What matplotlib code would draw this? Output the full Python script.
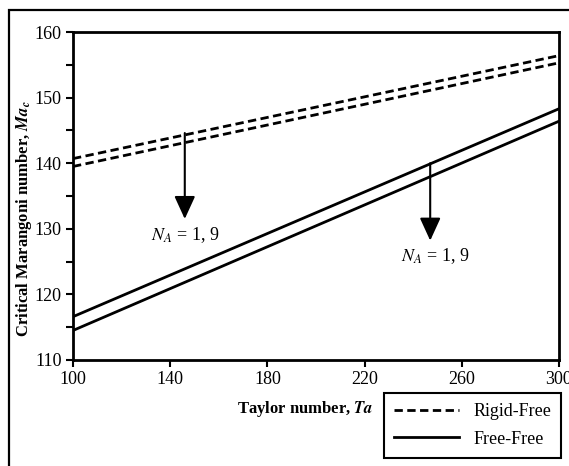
import numpy as np
import matplotlib
matplotlib.use('Agg')
import matplotlib.pyplot as plt
from matplotlib.patches import Rectangle
from matplotlib.ticker import MultipleLocator

plt.rcParams['font.family'] = 'Liberation Serif'
plt.rcParams['mathtext.fontset'] = 'stix'

# Taylor number end points (the curves are straight lines)
ta = [100, 300]

# Rigid-Free, N_A = 1 and N_A = 9
rf_na1 = [140.7, 156.4]
rf_na9 = [139.5, 155.3]

# Free-Free, N_A = 1 and N_A = 9
ff_na1 = [116.6, 148.3]
ff_na9 = [114.5, 146.4]

# arrows: (Ta, start Ma, tip Ma, label Ta, label Ma)
arrows = [(146, 144.6, 131.5, 146, 129.1),
          (247, 140.0, 128.2, 249, 125.9)]
arrow_text = r'$N_A$ = 1, 9'

fig = plt.figure(figsize=(5.69, 4.66), dpi=100)
ax = fig.add_axes([0.1283, 0.2275, 0.8541, 0.7038])

ax.plot(ta, rf_na1, 'k--', lw=2.0, dashes=(3, 1.6), label='Rigid-Free')
ax.plot(ta, rf_na9, 'k--', lw=2.0, dashes=(3, 1.6))
ax.plot(ta, ff_na1, 'k-', lw=2.0, label='Free-Free')
ax.plot(ta, ff_na9, 'k-', lw=2.0)

for x, y0, y1, tx, ty in arrows:
    ax.annotate('', xy=(x, y1), xytext=(x, y0),
                arrowprops=dict(arrowstyle='-|>,head_length=0.7,head_width=0.32',
                                color='k', lw=1.5, mutation_scale=20,
                                shrinkA=0, shrinkB=0))
    ax.text(tx, ty, arrow_text, ha='center', va='center', fontsize=13)

ax.set_xlim(100, 300)
ax.set_ylim(110, 160)
ax.set_xticks(np.arange(100, 301, 40))
ax.set_yticks(np.arange(110, 161, 10))
ax.yaxis.set_minor_locator(MultipleLocator(5))
ax.tick_params(direction='out', length=5, width=1.5, labelsize=13, pad=3)
ax.tick_params(which='minor', direction='out', length=5, width=1.5)
for s in ax.spines.values():
    s.set_linewidth(2.0)

ax.set_xlabel(r'Taylor number, $\mathbfit{Ta}$', fontsize=12, fontweight='bold')
ax.xaxis.set_label_coords(0.477, -0.12)
ax.set_ylabel(r'Critical Marangoni number, $\mathbfit{Ma}_{\mathbfit{c}}$',
              fontsize=12, fontweight='bold')
ax.yaxis.set_label_coords(-0.08, 0.43)

leg = ax.legend(loc='upper right', bbox_to_anchor=(561 / 569, 1 - 393 / 466),
                bbox_transform=fig.transFigure, fontsize=13, fancybox=False,
                edgecolor='k', handlelength=3.6, borderpad=0.55, labelspacing=0.6,
                handletextpad=0.8, borderaxespad=0)
leg.get_frame().set_linewidth(1.5)
leg.get_frame().set_alpha(1)

# outer frame of the figure (left and top edges visible)
fig.patches.append(Rectangle((9 / 569, -0.1), 1.2, 1.1 - 10 / 466,
                             transform=fig.transFigure, fill=False,
                             edgecolor='k', lw=1.6))

fig.savefig('out.png', dpi=100)
